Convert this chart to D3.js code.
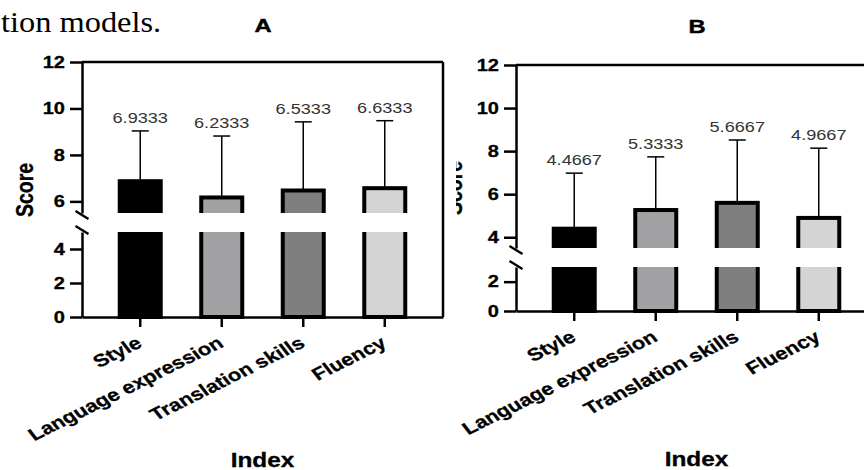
<html>
  <head>
    <style>
      body { margin: 0; background: #fff; }
      svg text { font-family: "Liberation Sans", Arial, sans-serif; }
    </style>
  </head>
  <body>
    <svg width="864" height="470"></svg>
    <script src="https://d3js.org/d3.v7.min.js"></script>
    <script>
      // data
      var categories = ["Style", "Language expression", "Translation skills", "Fluency"];
      var meansA  = [6.9333, 6.2333, 6.5333, 6.6333];
      var sdA     = [2.10, 2.58, 2.89, 2.84];
      var labelsA = ["6.9333", "6.2333", "6.5333", "6.6333"];
      var meansB  = [4.4667, 5.3333, 5.6667, 4.9667];
      var sdB     = [2.51, 2.40, 2.85, 3.17];
      var labelsB = ["4.4667", "5.3333", "5.6667", "4.9667"];
      var ticksLowA = [0, 2, 4], ticksHighA = [6, 8, 10, 12];
      var ticksLowB = [0, 2],    ticksHighB = [4, 6, 8, 10, 12];
      var breakA = [5, 5.5], breakB = [3, 3.5];
      var fills = ["#000000", "#a2a2a5", "#7f7f7f", "#d4d4d4"];

      var SX = 1.25; // the source picture is stretched sideways
      var svg = d3.select("svg");

      svg.append("text")
          .attr("transform", "translate(1,32) scale(1.08,1)")
          .style("font-family", "'Liberation Serif', 'DejaVu Serif', serif")
          .style("font-size", "30px")
          .text("tion models.");

      svg.append("defs").append("clipPath").attr("id", "clipB")
        .append("rect").attr("x", 456).attr("y", 0).attr("width", 420).attr("height", 470);

      var panels = [
        { title: "A", titleX: 263, titleY: 32, left: 82, right: 443, top: 62, bottom: 317,
          gapTop: 213, gapBottom: 232, means: meansA, sd: sdA, labels: labelsA,
          ticksLow: ticksLowA, ticksHigh: ticksHighA, brk: breakA,
          scoreX: 33, scoreY: 190, indexY: 467 },
        { title: "B", titleX: 697, titleY: 33, left: 516, right: 877, top: 65, bottom: 311,
          gapTop: 248, gapBottom: 267, means: meansB, sd: sdB, labels: labelsB,
          ticksLow: ticksLowB, ticksHigh: ticksHighB, brk: breakB,
          scoreX: 462, scoreY: 188, indexY: 466, clip: true }
      ];

      function stretched(g, x, y, extra) {
        return g.append("text")
            .attr("transform", "translate(" + x + "," + y + ") scale(" + SX + ",1)" + (extra || ""));
      }

      panels.forEach(function(p) {
        var g = svg.append("g");
        if (p.clip) g.attr("clip-path", "url(#clipB)");

        var low  = d3.scaleLinear().domain([0, p.brk[0]]).range([p.bottom, p.gapBottom]);
        var high = d3.scaleLinear().domain([p.brk[1], 12]).range([p.gapTop, p.top]);
        var y = function(v) { return v >= p.brk[1] ? high(v) : low(v); };

        var x = d3.scaleBand().domain(categories).range([p.left, p.right])
            .paddingInner(0.497).paddingOuter(0.463);

        // bars
        var rows = categories.map(function(c, i) {
          return { c: c, m: p.means[i], sd: p.sd[i], lab: p.labels[i], fill: fills[i] };
        });
        g.selectAll("rect.bar").data(rows).enter().append("rect")
            .attr("class", "bar")
            .attr("x", function(d) { return x(d.c); })
            .attr("width", x.bandwidth())
            .attr("y", function(d) { return y(d.m) + 1.5; })
            .attr("height", function(d) { return y(0) - y(d.m) - 1.5; })
            .attr("fill", function(d) { return d.fill; })
            .attr("stroke", "#000")
            .attr("stroke-width", 4);

        // the break band
        g.append("rect")
            .attr("x", p.left + 2).attr("width", p.right - p.left - 4)
            .attr("y", p.gapTop).attr("height", p.gapBottom - p.gapTop)
            .attr("fill", "#fff");

        // error bars
        var eb = g.selectAll("g.err").data(rows).enter().append("g")
            .attr("class", "err")
            .attr("stroke", "#000").attr("stroke-width", 1.5);
        eb.append("line")
            .attr("x1", function(d) { return x(d.c) + x.bandwidth() / 2; })
            .attr("x2", function(d) { return x(d.c) + x.bandwidth() / 2; })
            .attr("y1", function(d) { return y(d.m); })
            .attr("y2", function(d) { return y(d.m + d.sd); });
        eb.append("line")
            .attr("x1", function(d) { return x(d.c) + x.bandwidth() / 2 - 8.5; })
            .attr("x2", function(d) { return x(d.c) + x.bandwidth() / 2 + 8.5; })
            .attr("y1", function(d) { return y(d.m + d.sd); })
            .attr("y2", function(d) { return y(d.m + d.sd); });

        rows.forEach(function(d) {
          stretched(g, x(d.c) + x.bandwidth() / 2, y(d.m + d.sd) - 8)
              .attr("text-anchor", "middle")
              .attr("fill", "#333")
              .style("font-size", "14.5px")
              .text(d.lab);
        });

        // frame
        g.append("line").attr("x1", p.left).attr("x2", p.right)
            .attr("y1", p.top).attr("y2", p.top)
            .attr("stroke", "#000").attr("stroke-width", 2.5);
        g.append("line").attr("x1", p.right).attr("x2", p.right)
            .attr("y1", p.top).attr("y2", p.bottom)
            .attr("stroke", "#000").attr("stroke-width", 2.5);

        // y axis in two pieces
        [[low, p.ticksLow], [high, p.ticksHigh]].forEach(function(s) {
          var ax = g.append("g")
              .attr("transform", "translate(" + p.left + ",0)")
              .call(d3.axisLeft(s[0]).tickValues(s[1]).tickFormat(d3.format("d"))
                  .tickSize(12).tickSizeOuter(0).tickPadding(1.6));
          ax.selectAll("path, line").attr("stroke", "#000").attr("stroke-width", 2.5);
          ax.selectAll("text")
              .attr("transform", "scale(" + SX + ",1)")
              .attr("fill", "#000")
              .attr("stroke", "#000").attr("stroke-width", 0.3)
              .style("font-size", "16px")
              .style("font-weight", "bold")
              .style("font-family", "'Liberation Sans', Arial, sans-serif");
        });

        // break marks
        [p.gapTop + 2, p.gapBottom - 2].forEach(function(cy) {
          g.append("line")
              .attr("x1", p.left - 6.5).attr("x2", p.left + 6.5)
              .attr("y1", cy - 4).attr("y2", cy + 4)
              .attr("stroke", "#000").attr("stroke-width", 2.5);
        });

        // x axis
        var xa = g.append("g")
            .attr("transform", "translate(0," + p.bottom + ")")
            .call(d3.axisBottom(x).tickSize(10).tickSizeOuter(0).tickFormat(""));
        xa.selectAll("path, line").attr("stroke", "#000").attr("stroke-width", 2.5);

        categories.forEach(function(c) {
          stretched(g, x(c) + x.bandwidth() / 2 + 3, p.bottom + 29, " rotate(-32)")
              .attr("text-anchor", "end")
              .attr("stroke", "#000").attr("stroke-width", 0.3)
              .style("font-size", "17.5px")
              .style("font-weight", "bold")
              .text(c);
        });

        // titles
        stretched(g, p.titleX, p.titleY)
            .attr("text-anchor", "middle")
            .attr("stroke", "#000").attr("stroke-width", 0.4)
            .style("font-size", "19px").style("font-weight", "bold")
            .text(p.title);
        stretched(g, (p.left + p.right) / 2, p.indexY)
            .attr("text-anchor", "middle")
            .attr("stroke", "#000").attr("stroke-width", 0.3)
            .style("font-size", "19.5px").style("font-weight", "bold")
            .text("Index");
        stretched(g, p.scoreX, p.scoreY, " rotate(-90)")
            .attr("text-anchor", "middle")
            .attr("stroke", "#000").attr("stroke-width", 0.3)
            .style("font-size", "19.5px").style("font-weight", "bold")
            .text("Score");
      });
    </script>
  </body>
</html>
